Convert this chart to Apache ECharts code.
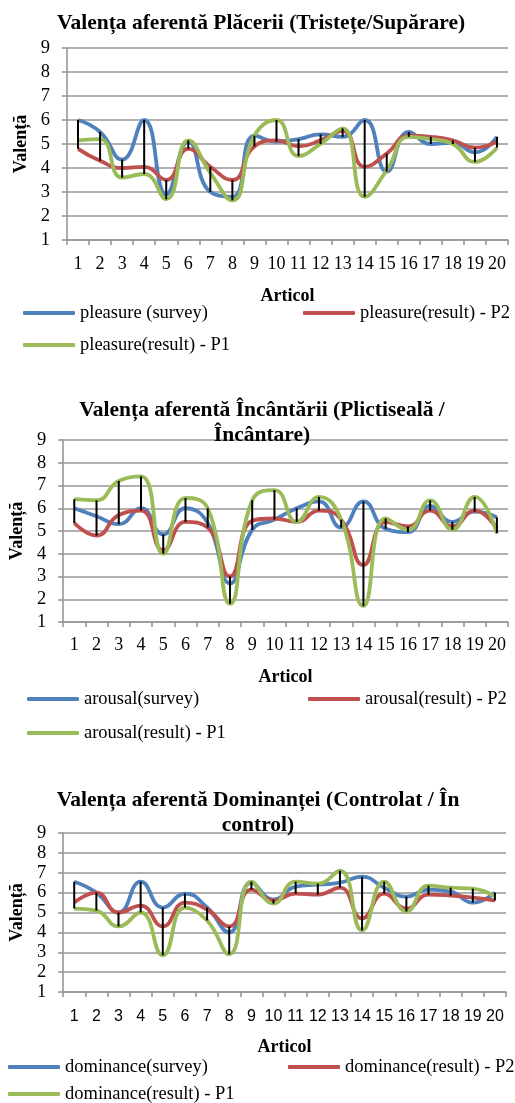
<!DOCTYPE html>
<html>
<head>
<meta charset="utf-8">
<script src="https://cdn.jsdelivr.net/npm/echarts@6/dist/echarts.min.js"></script>
<style>
html,body{margin:0;padding:0;background:#fff;}
#c{width:515px;height:1103px;}
</style>
</head>
<body>
<div id="c"></div>
<script>
const categories = ['1','2','3','4','5','6','7','8','9','10','11','12','13','14','15','16','17','18','19','20'];
const yTicks = [1,2,3,4,5,6,7,8,9];

const titles = [
  'Valența aferentă Plăcerii (Tristețe/Supărare)',
  'Valența aferentă Încântării (Plictiseală /\nÎncântare)',
  'Valența aferentă Dominanței (Controlat / În\ncontrol)'
];
const xName = 'Articol';
const yName = 'Valență';

const pleasureNames = ['pleasure (survey)', 'pleasure(result) - P2', 'pleasure(result) - P1'];
const pleasureSurvey = [6.0,5.5,4.35,6.0,2.9,5.1,3.0,2.8,5.35,5.1,5.2,5.4,5.3,6.0,3.85,5.5,5.0,5.05,4.65,5.3];
const pleasureP2     = [4.8,4.3,4.0,4.05,3.5,4.8,4.05,3.5,4.9,5.15,4.9,5.15,5.55,4.05,4.6,5.35,5.3,5.15,4.85,5.1];
const pleasureP1     = [5.15,5.2,3.6,3.75,2.7,5.15,3.8,2.65,5.35,6.0,4.5,5.0,5.65,2.8,3.9,5.3,5.2,5.0,4.25,4.85];

const arousalNames = ['arousal(survey)', 'arousal(result) - P2', 'arousal(result) - P1'];
const arousalSurvey = [6.0,5.65,5.3,6.0,4.85,6.0,5.35,2.7,5.05,5.5,6.0,6.3,5.15,6.3,5.1,4.95,6.1,5.4,5.85,5.6];
const arousalP2     = [5.35,4.8,5.7,5.9,4.15,5.4,5.15,3.0,5.45,5.55,5.4,5.9,5.5,3.5,5.4,5.2,5.9,5.2,5.9,5.1];
const arousalP1     = [6.4,6.35,7.2,7.4,4.0,6.45,6.0,1.8,6.35,6.8,5.4,6.5,5.5,1.7,5.55,5.05,6.35,5.05,6.5,4.9];

const dominanceNames = ['dominance(survey)', 'dominance(result) - P2', 'dominance(result) - P1'];
const dominanceSurvey = [6.55,6.0,5.0,6.55,5.25,5.95,5.25,4.0,6.5,5.65,6.3,6.4,6.5,6.8,6.25,5.8,6.15,6.05,5.5,6.0];
const dominanceP2     = [5.5,6.0,5.0,5.35,4.3,5.5,5.15,4.3,6.15,5.6,5.95,5.9,6.25,4.7,5.95,5.2,5.9,5.85,5.75,5.6];
const dominanceP1     = [5.2,5.1,4.3,5.0,2.85,5.25,4.6,2.9,6.55,5.45,6.55,6.45,7.1,4.1,6.55,5.05,6.35,6.25,6.2,5.8];

const colors = ['#4F81BD', '#C0504D', '#9BBB59'];
const serif = '"Liberation Serif", "DejaVu Serif", serif';
const sans = '"Liberation Sans", Arial, sans-serif';

const charts = [
  {names: pleasureNames, data: [pleasureSurvey, pleasureP2, pleasureP1],
   grid: {left: 67, right: 7, top: 48, height: 192},
   titleX: 261, titleY: 23, xLabelFont: serif, xLabelSize: 18, xMargin: 15, xNameGap: 47, nameGapY: 37,
   legend: [[23, 313, 0], [303, 313, 1], [23, 345, 2]]},
  {names: arousalNames, data: [arousalSurvey, arousalP2, arousalP1],
   grid: {left: 56, right: 7, top: 440, height: 182},
   titleX: 262, titleY: 410, xLabelFont: serif, xLabelSize: 18, xMargin: 14, xNameGap: 46, nameGapY: 34,
   legend: [[27, 699, 0], [308, 699, 1], [27, 733, 2]]},
  {names: dominanceNames, data: [dominanceSurvey, dominanceP2, dominanceP1],
   grid: {left: 55, right: 9, top: 833, height: 159},
   titleX: 258, titleY: 800, xLabelFont: sans, xLabelSize: 16, xMargin: 17, xNameGap: 46, nameGapY: 35,
   legend: [[8, 1067, 0], [288, 1067, 1], [8, 1094, 2]]}
];

const option = {
  animation: false,
  backgroundColor: '#fff',
  title: [], grid: [], xAxis: [], yAxis: [], legend: [], series: []
};

charts.forEach((c, gi) => {
  option.title.push({
    text: titles[gi], left: c.titleX, top: c.titleY - 12.5, padding: 0,
    textAlign: 'center',
    textStyle: {fontFamily: serif, fontWeight: 'bold', fontSize: 21.5, color: '#000', lineHeight: 25}
  });
  option.grid.push(Object.assign({containLabel: false}, c.grid));
  option.xAxis.push({
    type: 'category', gridIndex: gi, data: categories, boundaryGap: true,
    name: xName, nameLocation: 'middle', nameGap: c.xNameGap,
    nameTextStyle: {fontFamily: serif, fontWeight: 'bold', fontSize: 18, color: '#000'},
    axisLine: {lineStyle: {color: '#969696', width: 1.6}},
    axisTick: {show: true, alignWithLabel: false, length: 5, lineStyle: {color: '#969696', width: 1.6}},
    axisLabel: {fontFamily: c.xLabelFont, fontSize: c.xLabelSize, color: '#000', margin: c.xMargin, interval: 0},
    splitLine: {show: false}
  });
  option.yAxis.push({
    type: 'value', gridIndex: gi, min: yTicks[0], max: yTicks[yTicks.length - 1], interval: 1,
    name: yName, nameLocation: 'middle', nameGap: c.nameGapY, nameRotate: 90,
    nameTextStyle: {fontFamily: serif, fontWeight: 'bold', fontSize: 18, color: '#000'},
    axisLine: {show: true, lineStyle: {color: '#969696', width: 1.6}},
    axisTick: {show: true, length: 5, lineStyle: {color: '#969696', width: 1.6}},
    axisLabel: {fontFamily: serif, fontSize: 18.5, color: '#000', margin: 17},
    splitLine: {show: true, lineStyle: {color: '#969696', width: 1.6}}
  });
  c.names.forEach((n, si) => {
    option.series.push({
      type: 'line', name: n, xAxisIndex: gi, yAxisIndex: gi,
      data: c.data[si], smooth: 0.5, showSymbol: false, symbol: 'none',
      lineStyle: {color: colors[si], width: 3.8}, itemStyle: {color: colors[si]},
      z: 2 + si
    });
  });
  const hl = categories.map((_, i) => {
    const vals = c.data.map(a => a[i]);
    return [i, Math.min(...vals), Math.max(...vals)];
  });
  option.series.push({
    type: 'custom', xAxisIndex: gi, yAxisIndex: gi, data: hl, z: 10,
    encode: {x: 0, y: [1, 2]},
    renderItem: (params, api) => {
      const p1 = api.coord([api.value(0), api.value(1)]);
      const p2 = api.coord([api.value(0), api.value(2)]);
      return {type: 'line', shape: {x1: p1[0], y1: p1[1], x2: p2[0], y2: p2[1]},
              style: {stroke: '#000', lineWidth: 2}};
    }
  });
  c.legend.forEach(([x, y, si]) => {
    option.legend.push({
      data: [c.names[si]], left: x, top: y - 10, padding: 0,
      icon: 'roundRect', itemWidth: 52, itemHeight: 4, itemGap: 0,
      selectedMode: false,
      textStyle: {fontFamily: serif, fontSize: 18.5, lineHeight: 20, color: '#000', padding: [0, 0, 0, 0]}
    });
  });
});

const chart = echarts.init(document.getElementById('c'), null, {renderer: 'canvas'});
chart.setOption(option);
</script>
</body>
</html>
